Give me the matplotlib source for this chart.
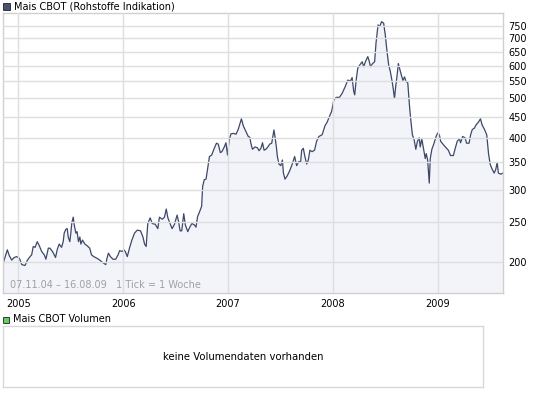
import numpy as np
import matplotlib
matplotlib.use("Agg")
import matplotlib.pyplot as plt
from matplotlib.patches import Rectangle

# weeks since 07.11.2004 and corn price (US-cent / bushel)
weeks = [
    0.35, 0.7, 2.3, 3.3, 4.5, 5.7, 7.0, 8.3, 9.5, 11.1, 12.3, 13.6, 14.4, 15.2,
    16.1, 17.2, 18.2, 19.4, 20.7, 21.5, 22.7, 23.5, 24.8, 26.3, 27.1, 28.1,
    29.3, 30.1, 30.6, 31.4, 32.1, 32.6, 33.4, 33.9, 34.4, 35.1, 35.6, 36.4,
    37.0, 37.7, 38.4, 38.9, 39.7, 40.9, 42.0, 43.3, 44.2, 45.3, 47.0, 48.3,
    49.9, 51.3, 51.9, 52.6, 53.6, 54.9, 56.2, 57.4, 58.2, 59.5, 60.3, 61.0,
    62.0, 63.2, 64.3, 65.6, 67.0, 68.6, 69.8, 70.6, 71.4, 72.2, 73.4, 74.4,
    75.9, 77.2, 78.0, 79.4, 80.5, 81.4, 82.2, 83.3, 84.3, 85.5, 86.8, 87.5,
    88.3, 89.1, 90.1, 90.9, 92.1, 93.3, 94.2, 95.4, 96.2, 97.0, 98.0, 99.0,
    99.5, 100.3, 101.2, 102.0, 102.9, 104.0, 105.3, 106.4, 107.3, 108.3,
    109.1, 110.3, 111.1, 111.9, 112.7, 113.6, 114.9, 116.1, 117.2, 118.8,
    119.8, 121.0, 122.2, 123.0, 123.5, 124.3, 125.6, 126.8, 127.6, 128.5,
    129.3, 130.1, 131.0, 131.8, 132.9, 133.9, 135.0, 135.5, 136.2, 136.7,
    137.5, 138.4, 139.2, 139.7, 140.5, 141.6, 142.8, 144.1, 145.3, 146.3,
    147.4, 148.3, 148.8, 149.6, 150.4, 151.3, 152.1, 152.9, 154.0, 155.2,
    156.2, 157.4, 159.0, 160.4, 161.5, 162.7, 163.7, 164.8, 166.0, 167.6,
    169.0, 170.6, 171.7, 173.1, 173.9, 174.7, 175.2, 175.9, 176.7, 177.7,
    178.9, 179.7, 180.5, 181.7, 182.5, 183.0, 184.1, 185.1, 185.8, 186.8,
    187.6, 188.6, 189.6, 190.4, 191.2, 192.1, 192.9, 193.7, 194.2, 195.0,
    195.6, 196.2, 196.9, 197.5, 198.4, 199.2, 200.0, 200.8, 201.6, 202.5,
    203.1, 203.9, 204.8, 205.6, 206.4, 207.3, 207.8, 208.6, 209.4, 210.3,
    210.8, 211.5, 212.0, 212.3, 212.8, 213.6, 214.7, 215.7, 216.5, 217.3,
    218.0, 219.3, 220.7, 221.8, 222.9, 224.3, 225.1, 226.2, 227.3, 227.9,
    228.9, 230.1, 230.9, 232.1, 232.9, 233.7, 234.7, 235.6, 236.8, 237.8,
    238.6, 239.8, 240.9, 241.8, 242.6, 243.4, 244.6, 245.4, 246.1, 246.7,
    247.9, 249.0,
]
prices = [
    198, 202, 214, 207, 202, 205, 206, 204, 197, 196, 202, 206, 208, 218,
    217, 224, 219, 212, 208, 203, 216, 216, 212, 205, 214, 221,
    217, 224, 235, 240, 241, 230, 224, 235, 249, 257, 246, 235,
    237, 224, 230, 221, 226, 221, 219, 216, 208, 206, 204, 202,
    199, 197, 204, 210, 206, 203, 203, 208, 213, 212, 214, 212,
    206, 217, 226, 235, 239, 238, 230, 221, 218, 248, 256, 248,
    247, 241, 257, 254, 257, 269, 256, 248, 241, 247, 260, 251,
    238, 238, 262, 246, 237, 244, 248, 246, 243, 258, 265, 273,
    305, 317, 318, 338, 361, 364, 378, 389, 387, 369,
    371, 381, 390, 364, 396, 410, 411, 409, 420, 446,
    428, 416, 404, 402, 389, 376, 381, 379, 373, 378,
    390, 374, 376, 380, 387, 389, 419, 404, 381, 361,
    346, 343, 354, 329, 318, 324, 333, 346, 361, 343,
    351, 351, 374, 378, 361, 346, 354, 374, 371, 374,
    393, 404, 408, 429, 438, 453, 465, 496, 503, 503,
    515, 536, 554, 551, 562, 520, 510, 553, 592, 603,
    614, 597, 614, 632, 614, 597, 608, 614, 682, 755,
    748, 769, 762, 714, 655, 603, 582, 554, 535, 500,
    535, 564, 608, 592, 570, 553, 564, 549, 546, 477,
    443, 408, 396, 376, 393, 401, 381, 398, 378, 357,
    367, 354, 325, 311, 357, 376, 389, 404, 412, 408,
    393, 386, 379, 374, 363, 363, 376, 393, 399, 390,
    404, 401, 389, 389, 408, 420, 423, 431, 438, 446,
    431, 420, 408, 367, 346, 338, 329, 336, 349, 329,
    327, 329,
]

y_ticks = [200, 250, 300, 350, 400, 450, 500, 550, 600, 650, 700, 750]
years = [2005, 2006, 2007, 2008, 2009]

title = "Mais CBOT (Rohstoffe Indikation)"
period = "07.11.04 \u2013 16.08.09   1 Tick = 1 Woche"
vol_title = "Mais CBOT Volumen"
vol_text = "keine Volumendaten vorhanden"

W, H = 545, 395
LINE = "#3d4868"
FILL = "#f3f4fa"
GRID = "#dedede"
FS = 7


def fx(px):
    return px / W


def fy(py):
    return 1 - py / H


start = np.datetime64("2004-11-07T00")
hours = (np.array(weeks) * 7 * 24).round().astype(int)
dates = (start + hours.astype("timedelta64[h]")).astype("datetime64[s]").astype(object)

fig = plt.figure(figsize=(W / 100, H / 100), dpi=100)
fig.patch.set_facecolor("white")

ax = fig.add_axes([fx(3), fy(293), fx(500), 280 / H])
ax.set_yscale("log")
ax.set_ylim(168, 807)
ax.set_xlim(np.datetime64("2004-11-08"), np.datetime64("2009-08-16"))

ax.fill_between(dates, prices, 100, color=FILL, lw=0)
ax.plot(dates, prices, color=LINE, lw=0.9)

ax.yaxis.tick_right()
ax.set_yticks(y_ticks)
ax.set_yticklabels([str(t) for t in y_ticks])
ax.yaxis.set_minor_locator(matplotlib.ticker.NullLocator())
ax.set_xticks([np.datetime64(f"{y}-01-01") for y in years])
ax.set_xticklabels([str(y) for y in years])
ax.tick_params(axis="both", length=0, labelsize=FS, colors="black")
ax.tick_params(axis="y", pad=4)
ax.tick_params(axis="x", pad=4)
for lbl in ax.get_yticklabels():
    lbl.set_horizontalalignment("left")
ax.grid(True, color=GRID, lw=1)
ax.set_axisbelow(False)
for s in ax.spines.values():
    s.set_color("#d0d0d0")
    s.set_linewidth(1)

ax.text(0.014, 0.012, period, transform=ax.transAxes, fontsize=FS,
        color="#a0a0a0", va="bottom", ha="left")

# header with colour squares
fig.patches.append(Rectangle((fx(3), fy(10)), fx(7), 7 / H, transform=fig.transFigure,
                             facecolor="#4a5270", edgecolor="#222222", lw=0.6))
fig.text(fx(14), fy(6.5), title, fontsize=FS, va="center", ha="left")

fig.patches.append(Rectangle((fx(3), fy(323)), fx(6), 6 / H, transform=fig.transFigure,
                             facecolor="#66cc66", edgecolor="#222222", lw=0.6))
fig.text(fx(13), fy(319.5), vol_title, fontsize=FS, va="center", ha="left")

# empty volume panel
vax = fig.add_axes([fx(3), fy(387), fx(480), 61 / H])
vax.set_xticks([])
vax.set_yticks([])
for s in vax.spines.values():
    s.set_color("#d8d8d8")
    s.set_linewidth(1)
vax.text(0.5, 0.5, vol_text, transform=vax.transAxes, fontsize=FS + 0.3,
         ha="center", va="center")

fig.savefig("out.png", dpi=100, facecolor="white")
